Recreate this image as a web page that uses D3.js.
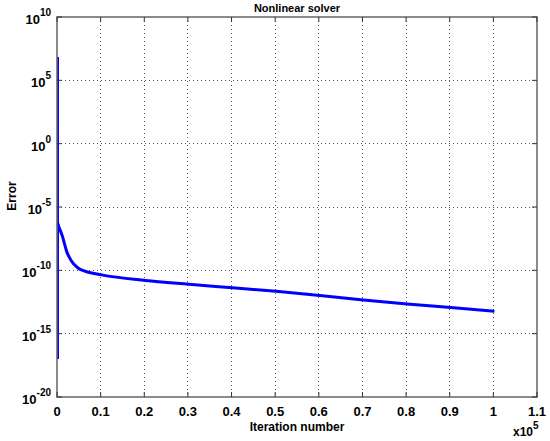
<!DOCTYPE html>
<html>
<head>
<meta charset="utf-8">
<script src="https://cdn.jsdelivr.net/npm/d3@7"></script>
<style>
  body { margin: 0; background: #fff; }
  text { font-family: "Liberation Sans", Arial, sans-serif; }
</style>
</head>
<body>
<div id="chart"></div>
<script>
// iteration numbers and the solver error
let iterations = [0, 0, 0, 150, 500, 1000, 2000, 3000, 4500, 6000, 10000, 20000, 30000, 40000, 50000, 60000, 70000, 80000, 90000, 100000];
let errors = [7e6, 1e-17, 5e-7, 3e-7, 1.5e-7, 5e-8, 3e-9, 6e-10, 1.6e-10, 9e-11, 4.4e-11, 1.6e-11, 8e-12, 4.2e-12, 2.2e-12, 1.05e-12, 4.6e-13, 2.2e-13, 1.15e-13, 5.8e-14];

let xTicks = [0, 10000, 20000, 30000, 40000, 50000, 60000, 70000, 80000, 90000, 100000, 110000];
let xTickLabels = ["0", "0.1", "0.2", "0.3", "0.4", "0.5", "0.6", "0.7", "0.8", "0.9", "1", "1.1"];
let yTickExps = [10, 5, 0, -5, -10, -15, -20];

let margin = {top: 17, right: 13, bottom: 44, left: 57};
let width = 550 - margin.left - margin.right;
let height = 441 - margin.top - margin.bottom;

let svg = d3.select("#chart").append("svg")
    .attr("width", 550)
    .attr("height", 441);

let g = svg.append("g")
    .attr("transform", `translate(${margin.left}, ${margin.top})`);

let x = d3.scaleLinear().domain([0, 110000]).range([0, width]);
let y = d3.scaleLog().domain([1e-20, 1e10]).range([height, 0]);

// grid lines
g.append("g").selectAll("line")
    .data(xTicks.slice(1, -1))
    .enter().append("line")
    .attr("x1", d => x(d)).attr("x2", d => x(d))
    .attr("y1", 0).attr("y2", height)
    .attr("stroke", "#555")
    .attr("stroke-width", 1)
    .attr("stroke-dasharray", "1,3")
    .attr("shape-rendering", "crispEdges");

g.append("g").selectAll("line")
    .data(yTickExps.slice(1, -1))
    .enter().append("line")
    .attr("x1", 0).attr("x2", width)
    .attr("y1", d => y(Math.pow(10, d))).attr("y2", d => y(Math.pow(10, d)))
    .attr("stroke", "#555")
    .attr("stroke-width", 1)
    .attr("stroke-dasharray", "1,3")
    .attr("shape-rendering", "crispEdges");

// data line (from the third point on)
g.append("path")
    .datum(errors.slice(2))
    .attr("fill", "none")
    .attr("stroke", "#0000ff")
    .attr("stroke-width", 3)
    .attr("d", d3.line()
        .x((d, i) => x(iterations[i + 2]) + 1)
        .y(d => y(d))
        .curve(d3.curveMonotoneX));

// the first spike at iteration 0
g.append("line")
    .attr("x1", x(iterations[0]) + 1).attr("x2", x(iterations[1]) + 1)
    .attr("y1", y(errors[0])).attr("y2", y(errors[1]))
    .attr("stroke", "#0000ff")
    .attr("stroke-width", 2);

// axes box
g.append("rect")
    .attr("width", width)
    .attr("height", height)
    .attr("fill", "none")
    .attr("stroke", "#666")
    .attr("stroke-width", 1.5);

// inward ticks on all sides
let tickLen = 5;
xTicks.forEach(d => {
    g.append("line").attr("x1", x(d)).attr("x2", x(d)).attr("y1", height).attr("y2", height - tickLen).attr("stroke", "#333");
    g.append("line").attr("x1", x(d)).attr("x2", x(d)).attr("y1", 0).attr("y2", tickLen).attr("stroke", "#333");
});
yTickExps.forEach(d => {
    let yy = y(Math.pow(10, d));
    g.append("line").attr("x1", 0).attr("x2", tickLen).attr("y1", yy).attr("y2", yy).attr("stroke", "#333");
    g.append("line").attr("x1", width).attr("x2", width - tickLen).attr("y1", yy).attr("y2", yy).attr("stroke", "#333");
});

// x tick labels
g.append("g").selectAll("text")
    .data(xTicks)
    .enter().append("text")
    .attr("x", d => x(d))
    .attr("y", height + 19)
    .attr("text-anchor", "middle")
    .style("font-size", "13px")
    .style("font-weight", "bold")
    .text((d, i) => xTickLabels[i]);

// y tick labels with superscript exponent
let yLabels = g.append("g").selectAll("text")
    .data(yTickExps)
    .enter().append("text")
    .attr("x", -6)
    .attr("y", d => y(Math.pow(10, d)) + 7)
    .attr("text-anchor", "end")
    .style("font-size", "13px")
    .style("font-weight", "bold");
yLabels.append("tspan").text("10");
yLabels.append("tspan")
    .attr("dy", -8)
    .style("font-size", "10px")
    .text(d => d);

// title
svg.append("text")
    .attr("x", margin.left + width / 2)
    .attr("y", 12)
    .attr("text-anchor", "middle")
    .style("font-size", "11px")
    .style("font-weight", "bold")
    .text("Nonlinear solver");

// x label
svg.append("text")
    .attr("x", margin.left + width / 2)
    .attr("y", 431)
    .attr("text-anchor", "middle")
    .style("font-size", "12px")
    .style("font-weight", "bold")
    .text("Iteration number");

// x10^5 multiplier
let mult = svg.append("text")
    .attr("x", 513)
    .attr("y", 436)
    .style("font-size", "12px")
    .style("font-weight", "bold");
mult.append("tspan").text("x10");
mult.append("tspan").attr("dy", -7).style("font-size", "10px").text("5");

// y label
svg.append("text")
    .attr("transform", "rotate(-90)")
    .attr("x", -196)
    .attr("y", 16)
    .attr("text-anchor", "middle")
    .style("font-size", "12px")
    .style("font-weight", "bold")
    .text("Error");
</script>
</body>
</html>
